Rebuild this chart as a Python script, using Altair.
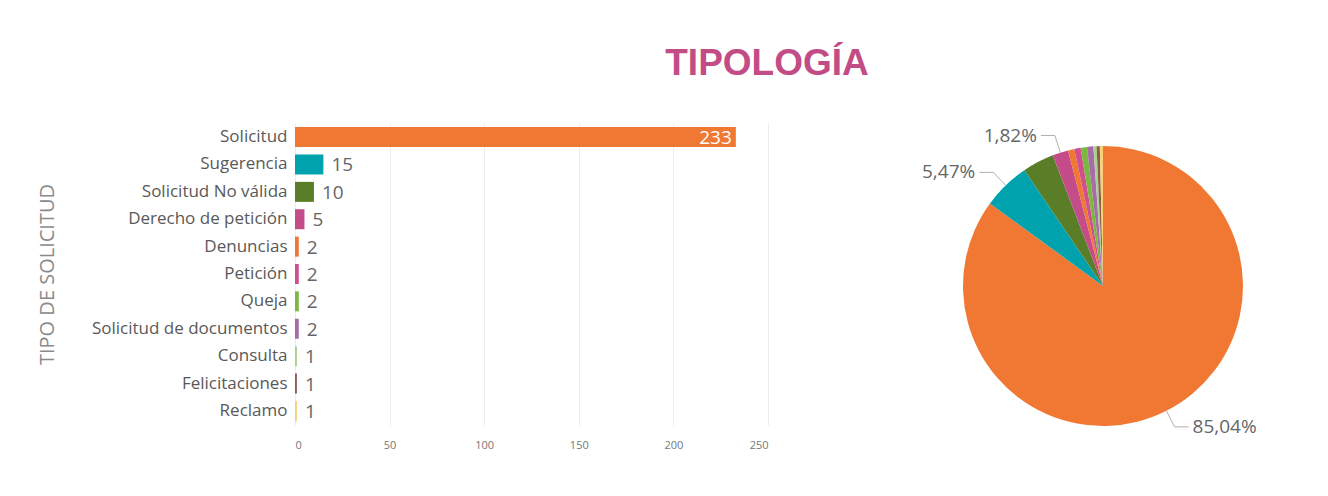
import altair as alt
import pandas as pd

categories = ["Solicitud", "Sugerencia", "Solicitud No válida", "Derecho de petición",
              "Denuncias", "Petición", "Queja", "Solicitud de documentos",
              "Consulta", "Felicitaciones", "Reclamo"]
counts = [233, 15, 10, 5, 2, 2, 2, 2, 1, 1, 1]
colors = ["#F07832", "#00A3AD", "#5A7D28", "#C44C88", "#F07832", "#D0508F",
          "#7BB840", "#A66DAA", "#A9D18E", "#8C5C4A", "#F9D077"]
pie_labelled = ["Solicitud", "Sugerencia", "Derecho de petición"]
x_ticks = [0, 50, 100, 150, 200, 250]

df = pd.DataFrame({"cat": categories, "count": counts, "idx": list(range(len(categories))),
                   "show": [c in pie_labelled for c in categories]})

FONT = "Open Sans"
color_scale = alt.Scale(domain=categories, range=colors)

# ---------- Bar chart ----------
bar_base = alt.Chart(df)
y_enc = alt.Y("cat:N", sort=categories,
              scale=alt.Scale(paddingInner=0.27, paddingOuter=0.15),
              axis=alt.Axis(title="TIPO DE SOLICITUD", titleFont=FONT, titleFontSize=20,
                            titleFontWeight="normal", titleColor="#8a8a8a", titlePadding=38,
                            labelFont=FONT, labelFontSize=17, labelColor="#595959",
                            labelLimit=400, labelPadding=8, ticks=False, domain=False,
                            grid=False))
x_enc = alt.X("count:Q", scale=alt.Scale(domain=[0, 250], nice=False),
              axis=alt.Axis(title=None, values=x_ticks, labelFont=FONT, labelFontSize=11,
                            labelColor="#777777", labelPadding=14, ticks=False, domain=False,
                            grid=True, gridColor="#ececec"))
bars = bar_base.mark_bar().encode(
    y=y_enc, x=x_enc,
    color=alt.Color("cat:N", scale=color_scale, legend=None))
lbl_out = bar_base.transform_filter("datum.count < 200").mark_text(
    align="left", baseline="middle", dx=8, dy=1, fontSize=19, font=FONT, color="#666666"
).encode(y=alt.Y("cat:N", sort=categories), x="count:Q", text="count:Q")
lbl_in = bar_base.transform_filter("datum.count >= 200").mark_text(
    align="right", baseline="middle", dx=-4, dy=1, fontSize=19, font=FONT, color="#ffffff"
).encode(y=alt.Y("cat:N", sort=categories), x="count:Q", text="count:Q")
bar_chart = alt.layer(bars, lbl_out, lbl_in).properties(width=473, height=302)

# ---------- Pie chart ----------
PW, PH, R = 400, 326, 140
cx, cy = PW / 2, PH / 2
pie_base = alt.Chart(df).transform_joinaggregate(total="sum(count)")
arcs = pie_base.mark_arc(outerRadius=R, strokeWidth=0).encode(
    theta=alt.Theta("count:Q", stack=True),
    color=alt.Color("cat:N", scale=color_scale, legend=None),
    order=alt.Order("idx:Q"))

lab = (pie_base
       .transform_window(cum="sum(count)", sort=[alt.SortField("idx")], frame=[None, 0])
       .transform_calculate(mid="(datum.cum - datum.count/2) / datum.total * 2 * PI")
       .transform_filter("datum.show")
       .transform_calculate(
           s="sin(datum.mid)", c="cos(datum.mid)",
           side="sin(datum.mid) >= 0 ? 1 : -1",
           pct="replace(format(datum.count / datum.total, '.2%'), '.', ',')")
       .transform_calculate(
           ex=f"{cx} + {R} * datum.s", ey=f"{cy} - {R} * datum.c",
           bx=f"{cx} + {R + 18} * datum.s", by=f"{cy} - {R + 18} * datum.c")
       .transform_calculate(lx="datum.bx + datum.side * 14",
                            tx="datum.bx + datum.side * 18"))
rule1 = lab.mark_rule(color="#b0b0b0", strokeWidth=1).encode(
    x=alt.X("ex:Q", scale=None), y=alt.Y("ey:Q", scale=None),
    x2="bx:Q", y2="by:Q")
rule2 = lab.mark_rule(color="#b0b0b0", strokeWidth=1).encode(
    x=alt.X("bx:Q", scale=None), y=alt.Y("by:Q", scale=None),
    x2="lx:Q", y2="by:Q")
txt_r = lab.transform_filter("datum.side > 0").mark_text(
    align="left", baseline="middle", fontSize=19, font=FONT, color="#666666"
).encode(x=alt.X("tx:Q", scale=None), y=alt.Y("by:Q", scale=None), text="pct:N")
txt_l = lab.transform_filter("datum.side < 0").mark_text(
    align="right", baseline="middle", fontSize=19, font=FONT, color="#666666"
).encode(x=alt.X("tx:Q", scale=None), y=alt.Y("by:Q", scale=None), text="pct:N")
pie_chart = alt.layer(arcs, rule1, rule2, txt_r, txt_l).properties(width=PW, height=PH)

chart = alt.hconcat(bar_chart, pie_chart, spacing=135).properties(
    title=alt.TitleParams("TIPOLOGÍA", font="Liberation Sans", fontSize=37, fontWeight="bold",
                          color="#C24C86", anchor="middle", dx=97, offset=40),
    padding={"left": 29, "top": 37, "right": 5, "bottom": 5},
    background="white",
).configure_view(stroke=None)

chart.save("out.html", embed_options={"renderer": "svg", "actions": False})
